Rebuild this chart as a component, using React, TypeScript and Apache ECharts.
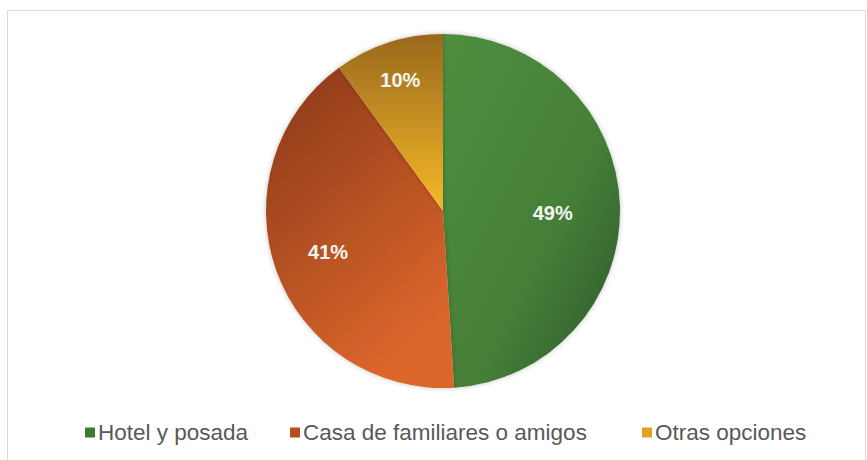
import React, { useEffect, useRef } from "react";
import * as echarts from "echarts";

const categories = ["Hotel y posada", "Casa de familiares o amigos", "Otras opciones"];
const values = [49, 41, 10];
const labelRadius = [0.62, 0.69, 0.78];

const CX = 443;
const CY = 211;
const R = 177;

const gradients = [
  new echarts.graphic.LinearGradient(0, 0, 1, 1, [
    { offset: 0, color: "#4f8f3f" },
    { offset: 0.6, color: "#457e37" },
    { offset: 1, color: "#2a552a" },
  ]),
  new echarts.graphic.LinearGradient(0, 0, 0.5, 1, [
    { offset: 0, color: "#883719" },
    { offset: 1, color: "#db662b" },
  ]),
  new echarts.graphic.LinearGradient(0, 0, 0, 1, [
    { offset: 0, color: "#9a681d" },
    { offset: 1, color: "#f6ba28" },
  ]),
];
const legendColors = ["#3f7a35", "#b84c20", "#e0a126"];

export default function App() {
  const ref = useRef<HTMLDivElement>(null);
  useEffect(() => {
    if (!ref.current) return;
    const chart = echarts.init(ref.current, null, { renderer: "svg" });
    const total = values.reduce((a, b) => a + b, 0);
    const mids: number[] = [];
    let cum = 0;
    values.forEach((v) => {
      mids.push(((cum + v / 2) / total) * Math.PI * 2);
      cum += v;
    });
    const legendLefts = [85, 290, 642];
    chart.setOption({
      animation: false,
      backgroundColor: "#ffffff",
      graphic: [
        {
          type: "rect",
          shape: { x: 7.5, y: 10.5, width: 858, height: 470 },
          style: { fill: "none", stroke: "#d9d9d9", lineWidth: 1 },
          silent: true,
        },
      ],
      legend: categories.map((c, i) => ({
        data: [{ name: c, itemStyle: { color: legendColors[i] } }],
        left: legendLefts[i],
        top: 421,
        icon: "rect",
        itemWidth: 10,
        itemHeight: 10,
        padding: 0,
        textStyle: {
          fontFamily: "Liberation Sans, Arial, sans-serif",
          fontSize: 22.5,
          color: "#595959",
          padding: [0, 0, 0, -2],
        },
      })),
      series: [
        {
          type: "pie",
          center: [CX, CY],
          radius: [0, R],
          startAngle: 90,
          clockwise: true,
          data: categories.map((c, i) => ({
            name: c,
            value: values[i],
            itemStyle: { color: gradients[i] },
          })),
          itemStyle: {
            borderWidth: 0,
            shadowBlur: 5,
            shadowColor: "rgba(0,0,0,0.25)",
          },
          label: {
            show: true,
            position: "inside",
            formatter: (p: any) => `${p.value}%`,
            color: "#f4f4f4",
            fontFamily: "Liberation Sans, Arial, sans-serif",
            fontWeight: "bold",
            fontSize: 20,
          },
          labelLine: { show: false },
          labelLayout: (params: any) => {
            const i = params.dataIndex;
            const a = mids[i];
            const f = labelRadius[i];
            return {
              x: CX + f * R * Math.sin(a),
              y: CY - f * R * Math.cos(a) + (i === 0 ? 5 : 0),
              align: "center",
              verticalAlign: "middle",
            };
          },
          emphasis: { disabled: true },
        },
      ],
    });
    return () => chart.dispose();
  }, []);
  return (
    <div
      ref={ref}
      style={{ position: "fixed", left: 0, top: 0, width: 867, height: 460 }}
    />
  );
}
